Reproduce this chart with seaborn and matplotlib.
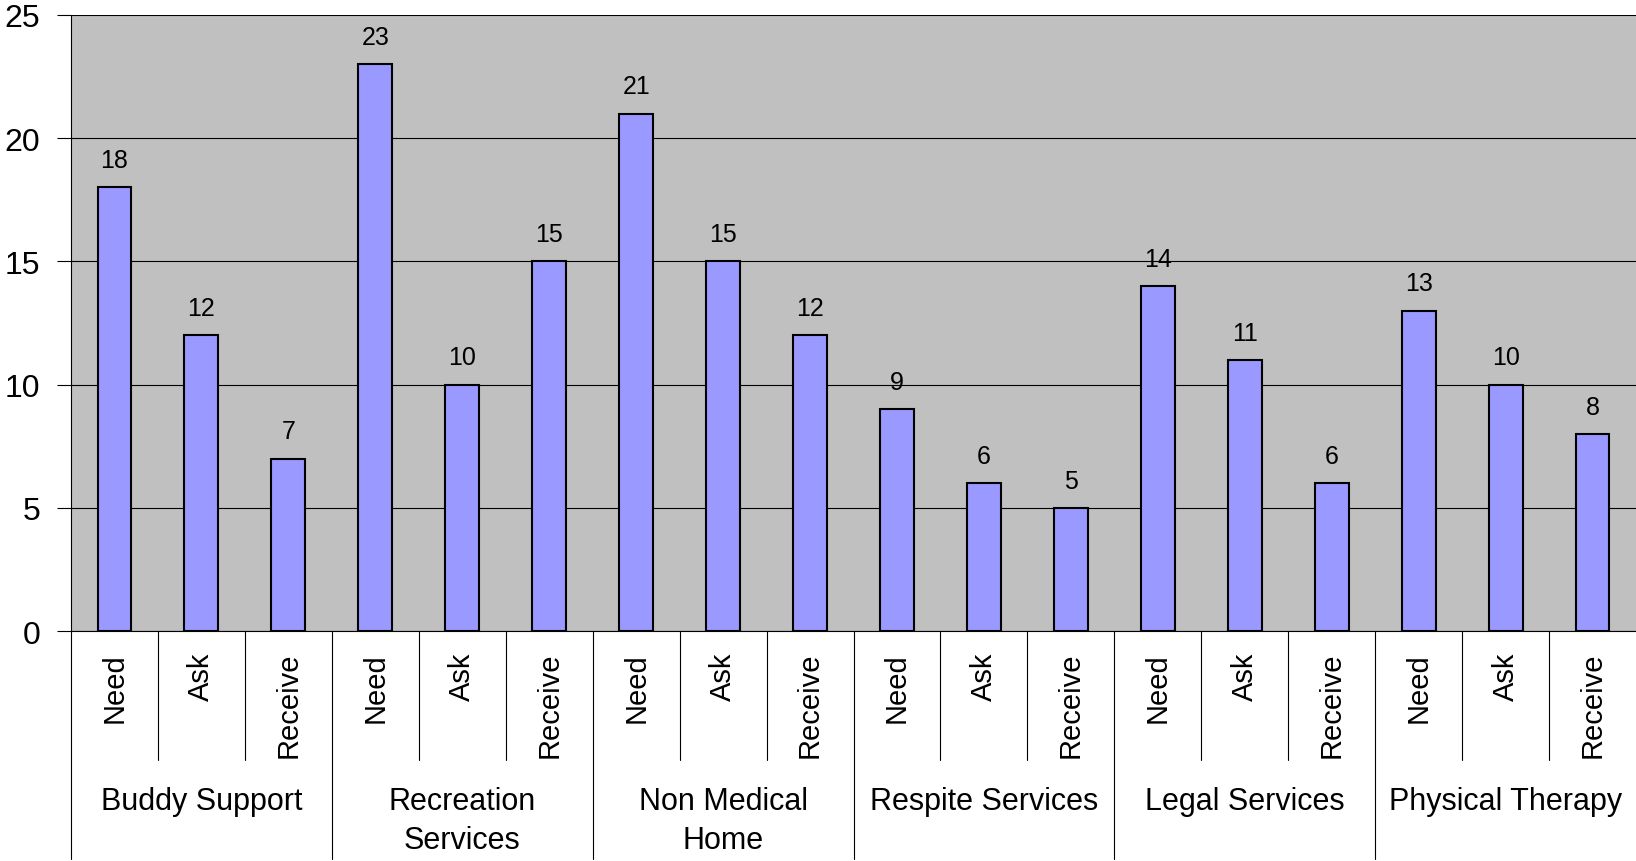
import pandas as pd
import numpy as np
import seaborn as sns
import matplotlib.pyplot as plt
from matplotlib.transforms import blended_transform_factory

# data
groups = ["Buddy Support", "Recreation\nServices", "Non Medical\nHome",
          "Respite Services", "Legal Services", "Physical Therapy"]
stages = ["Need", "Ask", "Receive"]
need = [18, 23, 21, 9, 14, 13]
ask = [12, 10, 15, 6, 11, 10]
receive = [7, 15, 12, 5, 6, 8]

rows = []
for i, g in enumerate(groups):
    for s, vals in zip(stages, [need, ask, receive]):
        rows.append({"key": f"{g}|{s}", "group": g, "stage": s, "count": vals[i]})
df = pd.DataFrame(rows)

sns.set_style("white")
plt.rcParams['font.family'] = ['Liberation Sans', 'DejaVu Sans']
plt.rcParams['text.color'] = 'black'
plt.rcParams['ytick.labelcolor'] = 'black'

fig = plt.figure(figsize=(16.36, 8.62), dpi=100)
ax = fig.add_axes([71 / 1636, 230 / 862, 1 - 71 / 1636, 616 / 862])
ax.set_facecolor("#C0C0C0")

sns.barplot(data=df, x="key", y="count", order=df["key"], color="#9999FF",
            saturation=1, width=0.39, edgecolor="black", linewidth=1.5, ax=ax)
ax.bar_label(ax.containers[0], padding=11, fontsize=18, color="black")

ax.set_ylim(0, 25)
ax.set_xlim(-0.5, len(df) - 0.5)
ax.set_yticks(range(0, 26, 5))
ax.yaxis.grid(True, color="black", linewidth=0.8)
ax.set_axisbelow(True)
ax.tick_params(axis="y", length=10, width=0.8, color="black", labelcolor="black",
               labelsize=23, pad=12, left=True)
ax.set_xticks([])
ax.set_xlabel("")
ax.set_ylabel("")
for side in ["top", "right"]:
    ax.spines[side].set_visible(False)
for side in ["left", "bottom"]:
    ax.spines[side].set_color("black")
    ax.spines[side].set_linewidth(0.8)

# two-level category axis
trans = blended_transform_factory(ax.transData, ax.transAxes)
for j, s in enumerate(df["stage"]):
    ax.text(j, -0.034, s, rotation=90, ha="center", va="top", fontsize=21, transform=trans)
    if j % 3 != 2:
        ax.plot([j + 0.5, j + 0.5], [0, -0.209], color="black", lw=0.8,
                transform=trans, clip_on=False)
for i, g in enumerate(groups):
    ax.text(i * 3 + 1, -0.251, g, ha="center", va="top", fontsize=22,
            linespacing=1.4, transform=trans)
    ax.plot([i * 3 - 0.5, i * 3 - 0.5], [0, -0.37], color="black", lw=0.8,
            transform=trans, clip_on=False)

fig.savefig("out.png", dpi=100)
